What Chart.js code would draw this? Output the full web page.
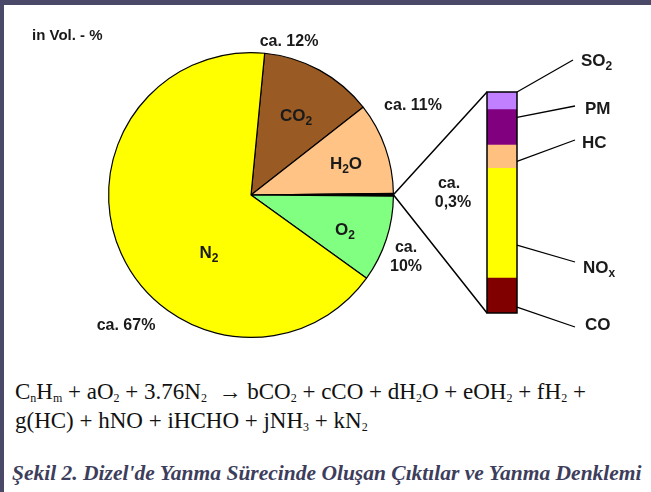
<!DOCTYPE html>
<html>
<head>
<meta charset="utf-8">
<script src="https://cdn.jsdelivr.net/npm/chart.js@4/dist/chart.umd.min.js"></script>
<style>
    html, body { margin: 0; padding: 0; background: #ffffff; }
    #page { position: relative; width: 651px; height: 492px; overflow: hidden; background: #ffffff; }
    #frame-top { position: absolute; left: 0; top: 0; width: 651px; height: 5px; background: #4a4a68; }
    #frame-left { position: absolute; left: 0; top: 0; width: 4px; height: 492px; background: #4a4a68; }
    canvas.layer { position: absolute; left: 0; top: 0; }
    #equation {
        position: absolute; left: 15px; top: 377px;
        font-family: "Liberation Serif", "Times New Roman", serif;
        font-size: 23px; line-height: 29px; color: #111111; white-space: nowrap;
    }
    #equation sub { font-size: 12px; line-height: 0; vertical-align: -3px; }
    #caption {
        position: absolute; left: 12px; top: 461px;
        font-family: "Liberation Serif", "Times New Roman", serif;
        font-size: 21.5px; line-height: 24px; font-weight: bold; font-style: italic;
        color: #3d3d5c; white-space: nowrap;
    }
</style>
</head>
<body>
<div id="page">
    <canvas id="pie-chart" class="layer" width="651" height="345"></canvas>
    <canvas id="bar-chart" class="layer" width="651" height="345"></canvas>
    <div id="frame-top"></div>
    <div id="frame-left"></div>
    <div id="equation">
        C<sub>n</sub>H<sub>m</sub> + aO<sub>2</sub> + 3.76N<sub>2</sub> &nbsp;&rarr; bCO<sub>2</sub> + cCO + dH<sub>2</sub>O + eOH<sub>2</sub> + fH<sub>2</sub> +<br>
        g(HC) + hNO + iHCHO + jNH<sub>3</sub> + kN<sub>2</sub>
    </div>
    <div id="caption">Şekil 2. Dizel'de Yanma Sürecinde Oluşan Çıktılar ve Yanma Denklemi</div>
</div>
<script>
// exhaust gas composition, vol-%
const pieLabels = ['CO2', 'H2O', 'Rest', 'O2', 'N2'];
const pieValues = [12.9, 10.4, 0.3, 9.8, 66.6];
const pieColors = ['#9a5a24', '#ffc485', '#000000', '#80ff80', '#ffff00'];

// the 0,3% rest, split up (bottom to top of the column)
const restLabels = ['CO', 'NOx', 'HC', 'PM', 'SO2'];
const restValues = [15.8, 49.7, 10.5, 16.0, 8.0];
const restColors = ['#800000', '#ffff00', '#ffc080', '#800080', '#c080ff'];

const LABEL_FONT = '"Liberation Sans", Arial, sans-serif';
let pieChart = null;
let barChart = null;

// text with optional subscript parts: [['CO', false], ['2', true]]
function drawParts(ctx, parts, x, y, size, align) {
    const subSize = Math.round(size * 0.68);
    let total = 0;
    parts.forEach(([txt, sub]) => {
        ctx.font = `bold ${sub ? subSize : size}px ${LABEL_FONT}`;
        total += ctx.measureText(txt).width;
    });
    let cx = align === 'center' ? x - total / 2 : x;
    ctx.textBaseline = 'middle';
    ctx.textAlign = 'left';
    parts.forEach(([txt, sub]) => {
        ctx.font = `bold ${sub ? subSize : size}px ${LABEL_FONT}`;
        ctx.fillText(txt, cx, sub ? y + size * 0.36 : y);
        cx += ctx.measureText(txt).width;
    });
}

const pieTextPlugin = {
    id: 'pieText',
    afterDraw(chart) {
        const ctx = chart.ctx;
        ctx.save();
        ctx.fillStyle = '#1a1a1a';

        drawParts(ctx, [['in Vol. - %', false]], 32, 36, 15, 'left');

        // share labels around the pie
        drawParts(ctx, [['ca. 12%', false]], 289, 42, 16, 'center');
        drawParts(ctx, [['ca. 11%', false]], 413, 106, 16, 'center');
        drawParts(ctx, [['ca.', false]], 449, 184, 16, 'center');
        drawParts(ctx, [['0,3%', false]], 453, 203, 16, 'center');
        drawParts(ctx, [['ca.', false]], 406, 248, 16, 'center');
        drawParts(ctx, [['10%', false]], 406, 267, 16, 'center');
        drawParts(ctx, [['ca. 67%', false]], 126, 326, 16, 'center');

        // names inside the slices
        drawParts(ctx, [['CO', false], ['2', true]], 296, 116, 17, 'center');
        drawParts(ctx, [['H', false], ['2', true], ['O', false]], 346, 164, 17, 'center');
        drawParts(ctx, [['O', false], ['2', true]], 345, 230, 17, 'center');
        drawParts(ctx, [['N', false], ['2', true]], 209, 253, 17, 'center');
        ctx.restore();
    }
};

const barTextPlugin = {
    id: 'barText',
    afterDraw(chart) {
        const ctx = chart.ctx;
        const metas = restLabels.map((_, i) => chart.getDatasetMeta(i).data[0]);
        const bottom = metas[0].base;
        const top = metas[metas.length - 1].y;
        const left = metas[0].x - metas[0].width / 2;
        const right = metas[0].x + metas[0].width / 2;

        ctx.save();
        ctx.strokeStyle = '#000000';
        ctx.lineWidth = 1.5;
        ctx.strokeRect(left, top, right - left, bottom - top);

        // zoom lines from the thin pie slice to the column
        if (pieChart) {
            const arc = pieChart.getDatasetMeta(0).data[2];
            const mid = (arc.startAngle + arc.endAngle) / 2;
            const px = arc.x + arc.outerRadius * Math.cos(mid);
            const py = arc.y + arc.outerRadius * Math.sin(mid);
            ctx.beginPath();
            ctx.moveTo(px, py);
            ctx.lineTo(left, top);
            ctx.moveTo(px, py);
            ctx.lineTo(left, bottom);
            ctx.stroke();
        }

        // leader lines + names, anchor = fraction up inside each segment
        const anchors = [0.17, 0.3, 0.3, 0.78, 1.0];
        const ends = [[575, 327], [575, 262], [575, 140], [575, 106], [573, 60]];
        const names = [
            { parts: [['CO', false]], x: 585, y: 325 },
            { parts: [['NO', false], ['x', true]], x: 583, y: 268 },
            { parts: [['HC', false]], x: 582, y: 143 },
            { parts: [['PM', false]], x: 585, y: 109 },
            { parts: [['SO', false], ['2', true]], x: 581, y: 61 }
        ];
        ctx.lineWidth = 1.3;
        metas.forEach((bar, i) => {
            const ay = bar.base - anchors[i] * (bar.base - bar.y);
            ctx.beginPath();
            ctx.moveTo(right, ay);
            ctx.lineTo(ends[i][0], ends[i][1]);
            ctx.stroke();
            ctx.fillStyle = '#1a1a1a';
            drawParts(ctx, names[i].parts, names[i].x, names[i].y, 17, 'left');
        });
        ctx.restore();
    }
};

function initializePieChart() {
    const ctx = document.getElementById('pie-chart').getContext('2d');
    pieChart = new Chart(ctx, {
        type: 'pie',
        data: {
            labels: pieLabels,
            datasets: [{
                data: pieValues,
                backgroundColor: pieColors,
                borderColor: '#000000',
                borderWidth: 1.2
            }]
        },
        options: {
            responsive: false,
            animation: false,
            rotation: 5.5,
            layout: { padding: { left: 108, right: 257, top: 52, bottom: 7 } },
            plugins: {
                legend: { display: false },
                tooltip: { enabled: false }
            }
        },
        plugins: [pieTextPlugin]
    });
}

function initializeBarChart() {
    const ctx = document.getElementById('bar-chart').getContext('2d');
    const total = restValues.reduce((a, b) => a + b, 0);
    barChart = new Chart(ctx, {
        type: 'bar',
        data: {
            labels: ['0,3%'],
            datasets: restLabels.map((name, i) => ({
                label: name,
                data: [restValues[i]],
                backgroundColor: restColors[i],
                borderWidth: 0,
                barPercentage: 1,
                categoryPercentage: 1
            }))
        },
        options: {
            responsive: false,
            animation: false,
            layout: { padding: { left: 487, right: 134, top: 92, bottom: 32 } },
            scales: {
                x: { stacked: true, display: false, grid: { display: false } },
                y: { stacked: true, display: false, min: 0, max: total }
            },
            plugins: {
                legend: { display: false },
                tooltip: { enabled: false }
            }
        },
        plugins: [barTextPlugin]
    });
}

initializePieChart();
initializeBarChart();
</script>
</body>
</html>
